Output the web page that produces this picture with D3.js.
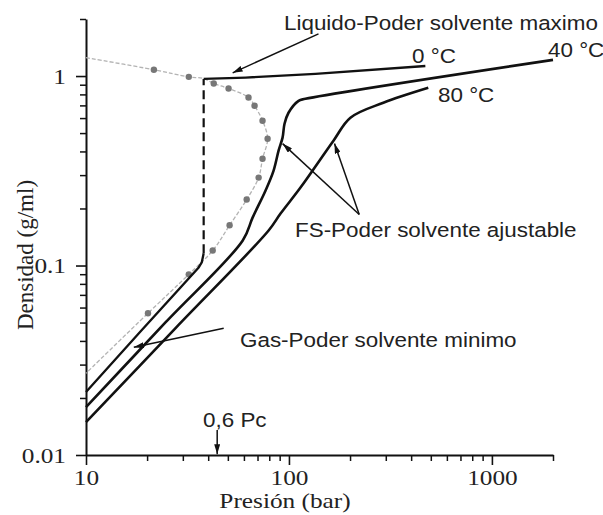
<!DOCTYPE html>
<html>
<head>
<meta charset="utf-8">
<script src="https://cdn.jsdelivr.net/npm/d3@7"></script>
<style>
  body { margin: 0; background: #fff; }
  svg { display: block; }
  .serif { font-family: "Liberation Serif", "Times New Roman", serif; }
  .sans { font-family: "Liberation Sans", Arial, sans-serif; }
</style>
</head>
<body>
<div id="chart"></div>
<script>
// tick values / labels
const xMajor = [10, 100, 1000];
const xMajorLabels = ["10", "100", "1000"];
const xMinor = [20, 30, 40, 50, 60, 70, 80, 90, 200, 300, 400, 500, 600, 700, 800, 900, 2000];
const yMajor = [0.01, 0.1, 1];
const yMajorLabels = ["0.01", "0.1", "1"];
const yMinor = [0.02, 0.03, 0.04, 0.05, 0.06, 0.07, 0.08, 0.09, 0.2, 0.3, 0.4, 0.5, 0.6, 0.7, 0.8, 0.9, 2];

// isotherms [pressure bar, density g/ml]
const iso0Gas = [[10, 0.0215], [18.6, 0.045], [35.9, 0.0977], [37.2, 0.104], [38.0, 0.116]];
const iso0Salto = [[38.0, 0.116], [38.0, 0.966]];
const iso0Liq = [[38.0, 0.966], [61.2, 0.982], [135, 1.027], [470, 1.13]];
const iso40 = [[10, 0.0179], [24.7, 0.0502], [59.2, 0.1356], [66.2, 0.179], [76.7, 0.249], [84.0, 0.317],
  [88.9, 0.404], [93.0, 0.473], [95.1, 0.560], [99.5, 0.640], [111.5, 0.740], [120.6, 0.758], [2000, 1.217]];
const iso80 = [[10, 0.0149], [27.7, 0.0469], [79.4, 0.153], [90.9, 0.188], [114, 0.258], [165.7, 0.456],
  [200.9, 0.603], [291.9, 0.723], [485.8, 0.867]];

// grey saturation curve and its measured points
const saturacion = [[10, 1.25], [21.6, 1.08], [32.1, 0.99], [38.0, 0.97], [42.6, 0.913], [50.4, 0.859],
  [63.2, 0.771], [67.7, 0.697], [74.1, 0.581], [78.5, 0.467], [74.1, 0.366], [70.9, 0.291], [61.9, 0.223],
  [51.0, 0.163], [42.1, 0.120], [32.1, 0.0898], [20.2, 0.056], [10, 0.027]];
const puntosSat = [[21.6, 1.08], [32.1, 0.99], [42.6, 0.913], [50.4, 0.859], [63.2, 0.771], [67.7, 0.697],
  [74.1, 0.581], [78.5, 0.467], [74.1, 0.366], [70.9, 0.291], [61.9, 0.223], [51.0, 0.163], [42.1, 0.120],
  [32.1, 0.0898], [20.2, 0.056]];

// annotation arrows [from, to] in data units
const flechas = [
  [[139.8, 1.67], [52.8, 1.04]],
  [[222, 0.186], [93.0, 0.44]],
  [[222, 0.186], [167.6, 0.44]],
  [[47.7, 0.0466], [17.2, 0.037]],
  [[44.3, 0.01354], [44.3, 0.0101]]
];

const W = 603, H = 515;
const svg = d3.select("#chart").append("svg").attr("width", W).attr("height", H);

const x = d3.scaleLog().domain([10, 2000]).range([86, 553]);
const y = d3.scaleLog().domain([0.01, 2]).range([455, 19]);

svg.append("defs").append("marker")
  .attr("id", "punta")
  .attr("viewBox", "0 0 10 6")
  .attr("refX", 10).attr("refY", 3)
  .attr("markerWidth", 10).attr("markerHeight", 6)
  .attr("markerUnits", "userSpaceOnUse")
  .attr("orient", "auto")
  .append("path").attr("d", "M0,0L10,3L0,6Z").attr("fill", "#111");

// axes
function styleAxis(g) {
  g.select(".domain").attr("stroke", "#111").attr("stroke-width", 2);
  g.selectAll(".tick line").attr("stroke", "#111").attr("stroke-width", 1.6);
}

const gxMinor = svg.append("g").attr("transform", "translate(0,455)")
  .call(d3.axisBottom(x).tickValues(xMinor).tickSize(6).tickSizeOuter(0).tickFormat(""));
gxMinor.select(".domain").remove();
gxMinor.selectAll(".tick line").attr("stroke", "#111").attr("stroke-width", 1.5);

const gx = svg.append("g").attr("transform", "translate(0,455)")
  .call(d3.axisBottom(x).tickValues(xMajor).tickSize(10).tickSizeOuter(0)
    .tickFormat((d, i) => xMajorLabels[i]));
styleAxis(gx);
gx.selectAll(".tick text")
  .attr("class", "serif").attr("font-size", 22).attr("fill", "#222")
  .attr("y", 30).attr("dy", null).attr("transform", "scale(1.15,1)");

const gyMinor = svg.append("g").attr("transform", "translate(86,0)")
  .call(d3.axisLeft(y).tickValues(yMinor).tickSize(6).tickSizeOuter(0).tickFormat(""));
gyMinor.select(".domain").remove();
gyMinor.selectAll(".tick line").attr("stroke", "#111").attr("stroke-width", 1.5);

const gy = svg.append("g").attr("transform", "translate(86,0)")
  .call(d3.axisLeft(y).tickValues(yMajor).tickSize(10).tickSizeOuter(0)
    .tickFormat((d, i) => yMajorLabels[i]));
styleAxis(gy);
gy.selectAll(".tick text")
  .attr("class", "serif").attr("font-size", 22).attr("fill", "#222")
  .attr("x", -20 / 1.15).attr("dy", null).attr("y", 7).attr("transform", "scale(1.15,1)");

// axis titles
svg.append("text").attr("class", "serif")
  .attr("transform", "translate(285,508) scale(1.15,1)")
  .attr("text-anchor", "middle").attr("font-size", 22).attr("fill", "#222")
  .text("Presión (bar)");
svg.append("text").attr("class", "serif")
  .attr("transform", "translate(33,255) rotate(-90)")
  .attr("text-anchor", "middle").attr("font-size", 23).attr("fill", "#222")
  .text("Densidad (g/ml)");

// curves
const line = d3.line().x(d => x(d[0])).y(d => y(d[1]));
const smooth = d3.line().x(d => x(d[0])).y(d => y(d[1])).curve(d3.curveCatmullRom.alpha(0.5));

svg.append("path").datum(saturacion)
  .attr("d", smooth).attr("fill", "none")
  .attr("stroke", "#b3b3b3").attr("stroke-width", 1.3).attr("stroke-dasharray", "4,2");
svg.selectAll(".pt").data(puntosSat).join("circle")
  .attr("class", "pt")
  .attr("cx", d => x(d[0])).attr("cy", d => y(d[1]))
  .attr("r", 3.2).attr("fill", "#777");

[iso0Gas, iso0Liq].forEach(s => {
  svg.append("path").datum(s).attr("d", line).attr("fill", "none")
    .attr("stroke", "#111").attr("stroke-width", 2.3);
});
svg.append("path").datum(iso0Salto).attr("d", line).attr("fill", "none")
  .attr("stroke", "#111").attr("stroke-width", 2.2).attr("stroke-dasharray", "9,5");

[iso40, iso80].forEach(s => {
  svg.append("path").datum(s).attr("d", smooth).attr("fill", "none")
    .attr("stroke", "#111").attr("stroke-width", 2.6).attr("stroke-linejoin", "round");
});

// arrows
svg.selectAll(".flecha").data(flechas).join("line")
  .attr("class", "flecha")
  .attr("x1", d => x(d[0][0])).attr("y1", d => y(d[0][1]))
  .attr("x2", d => x(d[1][0])).attr("y2", d => y(d[1][1]))
  .attr("stroke", "#111").attr("stroke-width", 1.5)
  .attr("marker-end", "url(#punta)");

// labels
const etiquetas = [
  { t: "Liquido-Poder solvente maximo", px: 284, py: 30 },
  { t: "0 °C", px: 412, py: 63 },
  { t: "40 °C", px: 548, py: 57 },
  { t: "80 °C", px: 438, py: 102 },
  { t: "FS-Poder solvente ajustable", px: 295, py: 237 },
  { t: "Gas-Poder solvente minimo", px: 240, py: 347 },
  { t: "0,6 Pc", px: 203, py: 427 }
];
svg.selectAll(".etq").data(etiquetas).join("text")
  .attr("class", "etq sans")
  .attr("transform", d => `translate(${d.px},${d.py}) scale(1.15,1)`)
  .attr("font-size", 19.5).attr("fill", "#222")
  .text(d => d.t);
</script>
</body>
</html>
